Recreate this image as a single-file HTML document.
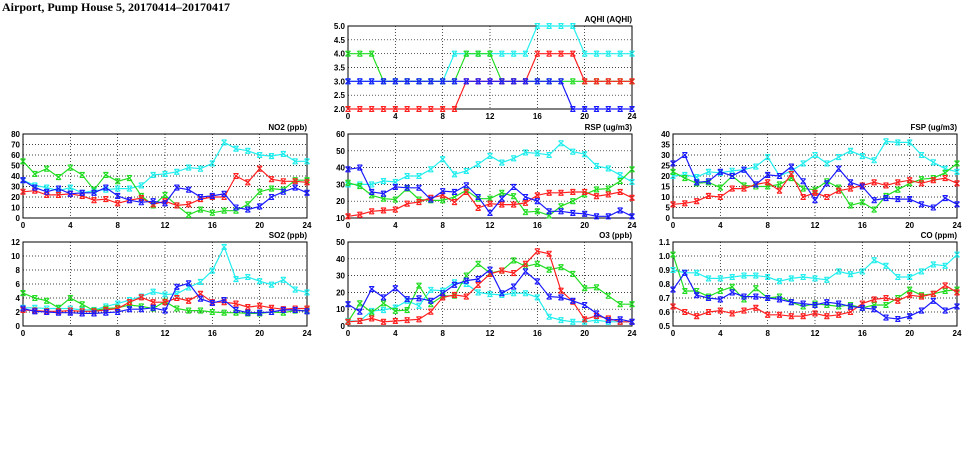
<!DOCTYPE html>
<html><head><meta charset="utf-8"><style>
body{margin:0;background:#fff;width:975px;height:447px;overflow:hidden}
svg text{font-family:"Liberation Sans",sans-serif;font-weight:bold;font-size:8px;fill:#000}
</style></head><body>
<svg id="c" width="975" height="447" xmlns="http://www.w3.org/2000/svg">
<text x="2" y="11" style="font-size:12px;font-family:'Liberation Serif',serif">Airport, Pump House 5, 20170414–20170417</text>
</svg>
<script>
const hours=[0,1,2,3,4,5,6,7,8,9,10,11,12,13,14,15,16,17,18,19,20,21,22,23,24];
const xTicks=[0,4,8,12,16,20,24];
const colors=["#22eeee","#22dd22","#ff2020","#1a1aff"];
const aqhiCyan=[3,3,3,3,3,3,3,3,3,4,4,4,4,4,4,4,5,5,5,5,4,4,4,4,4];
const aqhiGreen=[4,4,4,3,3,3,3,3,3,3,4,4,4,3,3,3,3,3,3,3,3,3,3,3,3];
const aqhiRed=[2,2,2,2,2,2,2,2,2,2,3,3,3,3,3,3,4,4,4,4,3,3,3,3,3];
const aqhiBlue=[3,3,3,3,3,3,3,3,3,3,3,3,3,3,3,3,3,3,3,2,2,2,2,2,2];
const aqhiTicks=["2.0","2.5","3.0","3.5","4.0","4.5","5.0"];
const no2Cyan=[36,31,29,26,29,24,26,27,28,28,31,41,42,44,48,47,52,72,66,64,60,59,61,54,54];
const no2Green=[54,42,47,39,48,41,27,41,35,38,21,12,22,12,3,8,5,7,7,13,25,28,27,36,36];
const no2Red=[25,26,22,22,23,21,17,18,14,17,19,13,16,12,13,18,20,20,40,34,47,37,35,35,34];
const no2Blue=[36,29,25,28,23,24,24,29,21,17,15,16,14,29,27,20,21,23,10,8,11,20,25,29,24];
const no2Ticks=["0","10","20","30","40","50","60","70","80"];
const rspCyan=[30,30,30,32,31.5,35,35,39,45,36,38,42,47,43,45.5,49,48.5,47.5,54.5,49.5,48,41,39.5,35.5,31.5];
const rspGreen=[31,29,23.5,21.5,21,27.5,21,20.5,20.5,22.5,26.5,21.5,21.5,25,23,13.5,14,11.5,17,20,24,27,27.5,32,39];
const rspRed=[11,12,14,14.5,15,18.5,19.5,22,23.5,19.5,25.5,16,18.5,18,18,19,23.5,25,25,25.5,25.5,23,24,25.5,22];
const rspBlue=[39,40,25.5,24.5,28.5,28,28,21,26,25.5,29.5,22.5,13,21.5,28.5,22.5,20,14,14,13,12.5,11,11,14.5,11];
const rspTicks=["10","20","30","40","50","60"];
const fspCyan=[20,20.5,19.5,22,21.5,22.5,23,24.5,29,20,22.5,26,30,26,29,32,29.5,27.5,36.5,36,36,30,26.5,23.5,22];
const fspGreen=[22,19,16.5,17,14.5,20,15.5,15,15,16,19,14,13.5,17.5,14.5,6,7.5,4,10.5,13.5,16.5,18.5,19,21.5,26];
const fspRed=[6.5,7,8,10.5,10,14,14,16,17,13,21,10,12,10,13,14,15.5,17,15.5,17,18,16.5,18,19,16.5];
const fspBlue=[26,30,17,17.5,22,20,23,16,20.5,20,24.5,17.5,8.5,16.5,23.5,17,15,8.5,9.5,9,9,6.5,5,9.5,6.5];
const fspTicks=["0","5","10","15","20","25","30","35","40"];
const so2Cyan=[2.6,2.6,2.5,2.5,2.5,2.3,2.3,2.8,3.2,3.7,4.2,4.9,4.5,4.6,5.5,6.3,7.9,11.3,6.7,7,6.4,5.9,6.6,5.2,4.8];
const so2Green=[4.7,4.0,3.6,2.6,4.0,3.1,2.2,2.5,2.6,3.0,2.8,2.5,3.5,2.5,2.2,2.2,2.0,1.9,1.9,1.8,1.8,2.0,1.9,2.2,2.2];
const so2Red=[2.3,2.2,2.1,2.1,2.2,2.1,2.1,2.3,2.5,3.4,4.1,3.4,3.4,4.0,3.6,4.6,3.4,3.4,3.2,2.7,2.9,2.6,2.4,2.5,2.5];
const so2Blue=[2.5,2.1,2.0,1.9,1.9,1.8,1.8,1.9,2.0,2.4,2.4,2.6,2.2,5.6,6.1,3.9,3.3,3.7,2.3,1.9,1.9,2.0,2.3,2.3,2.1];
const so2Ticks=["0","2","4","6","8","10","12"];
const o3Cyan=[3,3,9,9.5,11,15,12,21.5,21,26,25,20,19,18.5,19.5,19.5,17,5.5,3.5,2.5,2.5,3.5,2.5,2.5,2.5];
const o3Green=[2.5,13.5,8,13.5,9,9.5,24,13,18,18,30,37,31.5,33,39,35.5,37,33.5,35,31,22.5,23,18,13,13];
const o3Red=[2.5,3,4.5,2.5,3,3.5,4,8.5,17,18.5,17.5,24.5,31,33,31.5,37,44.5,43,21,14.5,4,6,4.5,2.5,2.5];
const o3Blue=[13,8.5,22,17,22.5,16,16.5,15,19.5,24.5,27,28,33.5,19.5,23.5,32.5,26.5,17.5,17,15,12.5,7.5,3.5,4,2.5];
const o3Ticks=["0","10","20","30","40","50"];
const coCyan=[0.90,0.88,0.88,0.84,0.84,0.85,0.86,0.86,0.85,0.82,0.84,0.85,0.84,0.83,0.89,0.87,0.89,0.97,0.93,0.85,0.85,0.89,0.94,0.93,1.01];
const coGreen=[1.01,0.75,0.75,0.71,0.75,0.78,0.69,0.77,0.70,0.71,0.67,0.64,0.66,0.65,0.64,0.65,0.63,0.65,0.65,0.70,0.76,0.72,0.73,0.75,0.76];
const coRed=[0.64,0.60,0.57,0.60,0.61,0.59,0.61,0.63,0.58,0.58,0.57,0.57,0.59,0.57,0.58,0.60,0.66,0.69,0.70,0.68,0.72,0.71,0.73,0.79,0.74];
const coBlue=[0.76,0.88,0.72,0.70,0.69,0.74,0.71,0.71,0.70,0.69,0.67,0.66,0.65,0.67,0.66,0.64,0.63,0.62,0.56,0.55,0.57,0.61,0.68,0.61,0.64];
const coTicks=["0.5","0.6","0.7","0.8","0.9","1.0","1.1"];

const panels=[
 {name:"aqhi",title:"AQHI (AQHI)",x0:348,x1:632,y0:26,y1:109,ticks:aqhiTicks,series:[aqhiCyan,aqhiGreen,aqhiRed,aqhiBlue]},
 {name:"no2",title:"NO2 (ppb)",x0:23,x1:307,y0:134,y1:218,ticks:no2Ticks,series:[no2Cyan,no2Green,no2Red,no2Blue]},
 {name:"rsp",title:"RSP (ug/m3)",x0:348,x1:632,y0:134,y1:218,ticks:rspTicks,series:[rspCyan,rspGreen,rspRed,rspBlue]},
 {name:"fsp",title:"FSP (ug/m3)",x0:673,x1:957,y0:134,y1:218,ticks:fspTicks,series:[fspCyan,fspGreen,fspRed,fspBlue]},
 {name:"so2",title:"SO2 (ppb)",x0:23,x1:307,y0:242,y1:326,ticks:so2Ticks,series:[so2Cyan,so2Green,so2Red,so2Blue]},
 {name:"o3",title:"O3 (ppb)",x0:348,x1:632,y0:242,y1:326,ticks:o3Ticks,series:[o3Cyan,o3Green,o3Red,o3Blue]},
 {name:"co",title:"CO (ppm)",x0:673,x1:957,y0:242,y1:326,ticks:coTicks,series:[coCyan,coGreen,coRed,coBlue]}
];
const svg=document.getElementById('c');
const NS="http://www.w3.org/2000/svg";
function mk(t,a,p){const e=document.createElementNS(NS,t);for(const k in a)e.setAttribute(k,a[k]);(p||svg).appendChild(e);return e;}
const cn=["cyan","green","red","blue"];
panels.forEach(P=>{
 const g=mk('g',{});
 
 
 const ymin=parseFloat(P.ticks[0]),ymax=parseFloat(P.ticks[P.ticks.length-1]);
 const X=h=>P.x0+(h-0)/24*(P.x1-P.x0);
 const Y=v=>P.y1-(v-ymin)/(ymax-ymin)*(P.y1-P.y0);
 P.ticks.forEach(t=>{const y=Y(parseFloat(t));
  const gl=mk('line',{x1:P.x0,x2:P.x1,y1:y,y2:y,stroke:'#000','stroke-width':0.7,'stroke-dasharray':'1,2'},g);
  
  
  const tl=mk('text',{x:P.x0-3,y:y+3,'text-anchor':'end'},g);tl.textContent=t;
  
  
 });
 xTicks.forEach(t=>{const x=X(t);
  const gl=mk('line',{x1:x,x2:x,y1:P.y0,y2:P.y1,stroke:'#000','stroke-width':0.7,'stroke-dasharray':'1,2'},g);
  
  
  const tl=mk('text',{x:x,y:P.y1+10,'text-anchor':'middle'},g);tl.textContent=t;
  
  
 });
 const fr=mk('rect',{x:P.x0,y:P.y0,width:P.x1-P.x0,height:P.y1-P.y0,fill:'none',stroke:'#000','stroke-width':1},g);
 
 
 const ti=mk('text',{x:P.x1,y:P.y0-4,'text-anchor':'end'},g);ti.textContent=P.title;
 
 
 P.series.forEach((s,i)=>{
  const pts=s.map((v,j)=>X(hours[j]).toFixed(1)+','+Y(v).toFixed(1)).join(' ');
  const pl=mk('polyline',{points:pts,fill:'none',stroke:colors[i],'stroke-width':1.2},g);
  
  
  s.forEach((v,j)=>{const x=X(hours[j]),y=Y(v);
   const m=mk('path',{d:`M${x-2.5},${y-2.5}L${x+2.5},${y+2.5}M${x+2.5},${y-2.5}L${x-2.5},${y+2.5}M${x-2.5},${y-2.5}H${x+2.5}M${x-2.5},${y+2.5}H${x+2.5}`,stroke:colors[i],'stroke-width':1.1,fill:'none'},g);
   
   
  });
 });
});
</script>
</body></html>
